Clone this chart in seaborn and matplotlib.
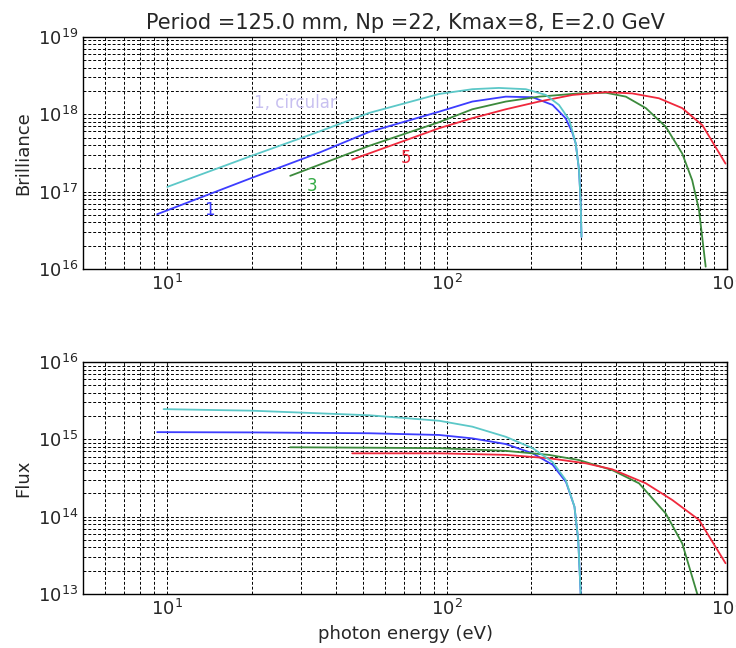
import numpy as np
import pandas as pd
import seaborn as sns
import matplotlib.pyplot as plt

# %% data (photon energy in eV)
# brilliance
circ_e = [10, 20, 35, 52.6, 93.6, 123, 153, 191, 225, 251, 273, 288, 296, 300, 302]
circ_b = [1.15e17, 2.9e17, 6.0e17, 1.04e18, 1.83e18, 2.11e18, 2.19e18, 2.11e18, 1.78e18,
          1.32e18, 8.5e17, 4.2e17, 1.9e17, 7.1e16, 2.6e16]
lin1_e = [9.2, 20, 35, 52.6, 93.6, 123, 162, 202, 238, 265, 280, 288, 296, 300, 302]
lin1_b = [5.1e16, 1.5e17, 3.2e17, 5.9e17, 1.08e18, 1.46e18, 1.69e18, 1.66e18, 1.32e18,
          8.9e17, 5.8e17, 4.2e17, 1.9e17, 7.1e16, 2.6e16]
lin3_e = [27.5, 52.6, 93.6, 123, 162, 213, 296, 369, 435, 513, 604, 692, 751, 794, 839]
lin3_b = [1.6e17, 3.9e17, 7.9e17, 1.16e18, 1.46e18, 1.69e18, 1.86e18, 1.9e18, 1.69e18,
          1.2e18, 6.9e17, 3.1e17, 1.4e17, 5.8e16, 1.07e16]
lin5_e = [45.8, 93.6, 123, 162, 213, 281, 369, 459, 571, 692, 817, 988]
lin5_b = [2.6e17, 6.6e17, 8.9e17, 1.16e18, 1.46e18, 1.78e18, 1.93e18, 1.86e18, 1.61e18,
          1.2e18, 7.2e17, 2.3e17]

# flux
circ_fe = [9.7, 20, 52.6, 93.6, 123, 162, 202, 238, 265, 285, 294, 300]
circ_f = [2.46e15, 2.35e15, 2.05e15, 1.74e15, 1.46e15, 1.08e15, 7.7e14, 5.1e14, 3.0e14,
          1.35e14, 5.0e13, 1.0e13]
lin1_fe = [9.2, 20, 52.6, 93.6, 123, 162, 202, 238, 266, 285, 294, 300]
lin1_f = [1.24e15, 1.23e15, 1.2e15, 1.14e15, 1.03e15, 8.7e14, 6.6e14, 4.7e14, 2.8e14,
          1.35e14, 5.0e13, 1.0e13]
lin3_fe = [27.5, 52.6, 93.6, 162, 231, 296, 389, 485, 604, 692, 783]
lin3_f = [7.9e14, 7.8e14, 7.7e14, 7.1e14, 6.3e14, 5.4e14, 4.0e14, 2.7e14, 1.1e14, 4.5e13, 1.0e13]
lin5_fe = [45.8, 93.6, 162, 231, 313, 389, 513, 638, 794, 988]
lin5_f = [6.6e14, 6.6e14, 6.3e14, 5.7e14, 4.9e14, 4.1e14, 2.7e14, 1.64e14, 9.1e13, 2.5e13]

c_circ = '#5cc8c8'
c_1 = '#3c3cff'
c_3 = '#3c8a3c'
c_5 = '#f0283c'

# %% style
sns.set_style('white')
plt.rcParams['font.family'] = ['DejaVu Sans']
plt.rcParams['xtick.direction'] = 'in'
plt.rcParams['ytick.direction'] = 'in'

fig = plt.figure(figsize=(7.36, 6.48), dpi=100)
ax1 = fig.add_axes([0.1128, 0.585, 0.875, 0.358])
ax2 = fig.add_axes([0.1128, 0.0833, 0.875, 0.358])

# %% brilliance
sns.lineplot(x=lin1_e, y=lin1_b, color=c_1, lw=1.3, estimator=None, sort=False, ax=ax1)
sns.lineplot(x=lin3_e, y=lin3_b, color=c_3, lw=1.3, estimator=None, sort=False, ax=ax1)
sns.lineplot(x=lin5_e, y=lin5_b, color=c_5, lw=1.3, estimator=None, sort=False, ax=ax1)
sns.lineplot(x=circ_e, y=circ_b, color=c_circ, lw=1.3, estimator=None, sort=False, ax=ax1)
ax1.text(20.4, 1.4e18, '1, circular', color='#c8c0f0', fontsize=12, va='center')
ax1.text(14.1, 5.8e16, '1', color=c_1, fontsize=12, ha='center', va='center')
ax1.text(32.9, 1.17e17, '3', color='#33aa44', fontsize=12, ha='center', va='center')
ax1.text(71.5, 2.7e17, '5', color=c_5, fontsize=12, ha='center', va='center')
ax1.set_ylim(1e16, 1e19)
ax1.set_ylabel('Brilliance', fontsize=13)
ax1.set_title('Period =125.0 mm, Np =22, Kmax=8, E=2.0 GeV', fontsize=15)

# %% flux
sns.lineplot(x=lin1_fe, y=lin1_f, color=c_1, lw=1.3, estimator=None, sort=False, ax=ax2)
sns.lineplot(x=lin3_fe, y=lin3_f, color=c_3, lw=1.3, estimator=None, sort=False, ax=ax2)
sns.lineplot(x=lin5_fe, y=lin5_f, color=c_5, lw=1.3, estimator=None, sort=False, ax=ax2)
sns.lineplot(x=circ_fe, y=circ_f, color=c_circ, lw=1.3, estimator=None, sort=False, ax=ax2)
ax2.set_ylim(1e13, 1e16)
ax2.set_ylabel('Flux', fontsize=13)
ax2.set_xlabel('photon energy (eV)', fontsize=13)

for ax in (ax1, ax2):
    ax.set_xscale('log')
    ax.set_yscale('log')
    ax.set_xlim(5, 1000)
    ax.grid(True, which='both', color='black', linestyle=(0, (3, 2)), linewidth=0.7)
    ax.tick_params(which='both', labelsize=13, top=True, right=True)
    for s in ax.spines.values():
        s.set_color('black')
        s.set_linewidth(1.0)

plt.savefig('out.png', dpi=100)
